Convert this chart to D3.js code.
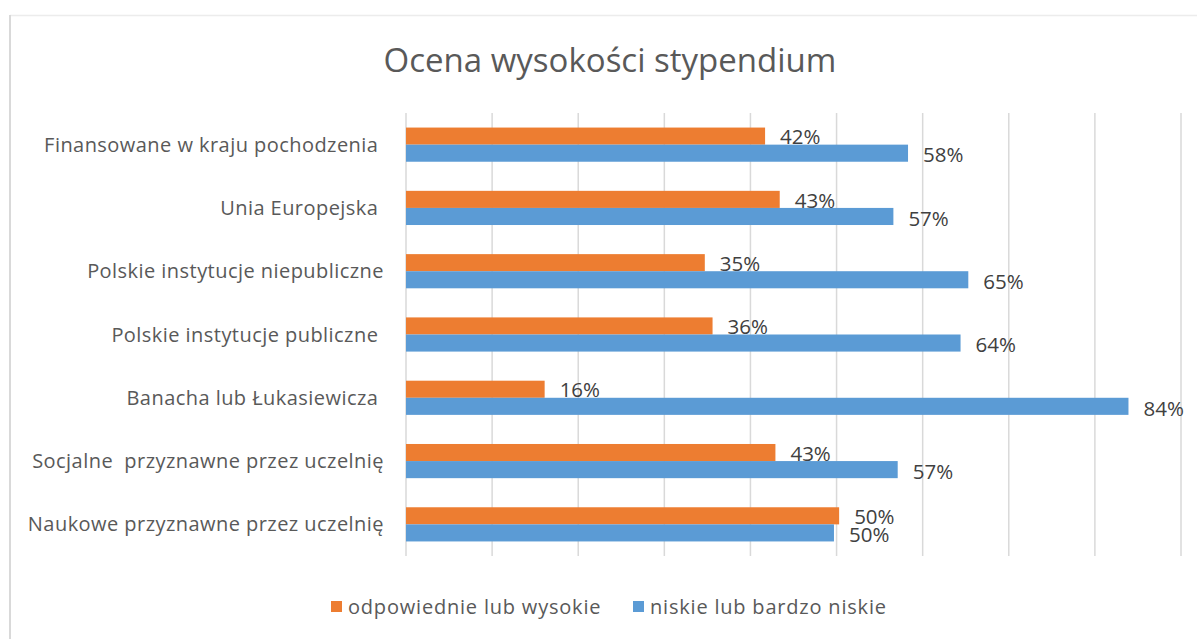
<!DOCTYPE html>
<html>
<head>
<meta charset="utf-8">
<script src="https://cdn.jsdelivr.net/npm/d3@7"></script>
<style>
  html, body { margin: 0; padding: 0; background: #fff; }
  svg { display: block; }
  text { font-family: "Open Sans", "Lato", sans-serif; white-space: pre; }
</style>
</head>
<body>
<svg id="chart" width="1197" height="639"></svg>
<script>
const categories = [
  "Finansowane w kraju pochodzenia ",
  "Unia Europejska ",
  "Polskie instytucje niepubliczne",
  "Polskie instytucje publiczne ",
  "Banacha lub Łukasiewicza ",
  "Socjalne  przyznawne przez uczelnię",
  "Naukowe przyznawne przez uczelnię"
];
const seriesNames = ["odpowiednie lub wysokie", "niskie lub bardzo niskie"];
// values (labels show them rounded)
const highValues = [41.7, 43.4, 34.7, 35.6, 16.1, 42.9, 50.3];
const lowValues  = [58.3, 56.6, 65.3, 64.4, 83.9, 57.1, 49.7];
const xTicks = [0, 10, 20, 30, 40, 50, 60, 70, 80, 90];
const colors = ["#ED7D31", "#5B9BD5"];
const title = "Ocena wysokości stypendium";

const svg = d3.select("#chart");

// chart frame
svg.append("line").attr("x1", 10).attr("x2", 1197).attr("y1", 15.5).attr("y2", 15.5)
  .attr("stroke", "#ececec").attr("stroke-width", 1.5);
svg.append("line").attr("x1", 10).attr("x2", 10).attr("y1", 15).attr("y2", 639)
  .attr("stroke", "#d9d9d9").attr("stroke-width", 2);

const plot = { left: 406, right: 1181, top: 113, bottom: 556 };

const x = d3.scaleLinear().domain([0, 90]).range([plot.left, plot.right]);
const y = d3.scaleBand().domain(categories).range([plot.top, plot.bottom]).paddingInner(0.46).paddingOuter(0.23);
const sub = d3.scaleBand().domain(seriesNames).range([0, y.bandwidth()]);

// gridlines
svg.append("g").selectAll("line").data(xTicks).join("line")
  .attr("x1", d => x(d)).attr("x2", d => x(d))
  .attr("y1", plot.top).attr("y2", plot.bottom)
  .attr("stroke", "#d9d9d9").attr("stroke-width", 1.5);

// title
svg.append("text").attr("x", 610).attr("y", 72).attr("text-anchor", "middle")
  .attr("font-size", 33).attr("fill", "#595959").text(title);

// category labels
svg.append("g").selectAll("text").data(categories).join("text")
  .attr("x", 384).attr("y", d => y(d) + y.bandwidth() / 2)
  .attr("dy", "0.35em").attr("text-anchor", "end")
  .attr("font-size", 20).attr("letter-spacing", 0.45)
  .attr("fill", "#595959").text(d => d);

const series = [highValues, lowValues];
series.forEach((vals, si) => {
  const g = svg.append("g");
  g.selectAll("rect").data(vals).join("rect")
    .attr("x", x(0))
    .attr("y", (d, i) => y(categories[i]) + sub(seriesNames[si]))
    .attr("width", d => x(d) - x(0))
    .attr("height", sub.bandwidth())
    .attr("fill", colors[si]);
  g.selectAll("text").data(vals).join("text")
    .attr("x", d => x(d) + 15)
    .attr("y", (d, i) => y(categories[i]) + sub(seriesNames[si]) + sub.bandwidth() / 2 + (si === 1 ? 2 : 1))
    .attr("dy", "0.35em")
    .attr("font-size", 20.5).attr("fill", "#404040")
    .text(d => Math.round(d) + "%");
});

// legend
const legendItems = [{ name: seriesNames[0], x: 331 }, { name: seriesNames[1], x: 633 }];
const lg = svg.append("g");
legendItems.forEach((it, i) => {
  lg.append("rect").attr("x", it.x).attr("y", 601).attr("width", 11).attr("height", 11).attr("fill", colors[i]);
  lg.append("text").attr("x", it.x + 17).attr("y", 607).attr("dy", "0.35em")
    .attr("font-size", 20).attr("letter-spacing", 0.8)
    .attr("fill", "#595959").text(it.name);
});
</script>
</body>
</html>
